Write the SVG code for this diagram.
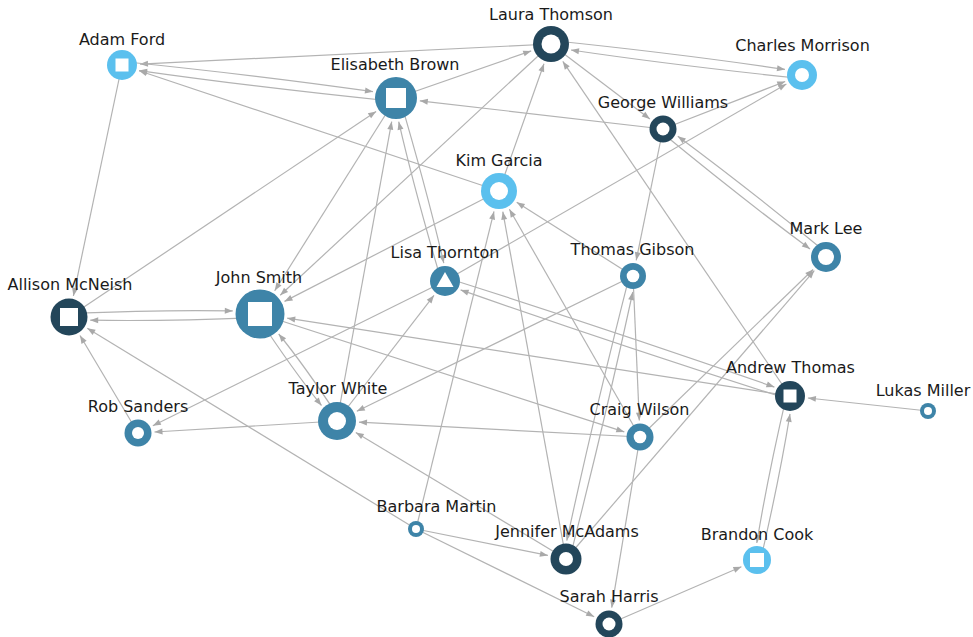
<svg xmlns="http://www.w3.org/2000/svg" width="973" height="637" viewBox="0 0 973 637">
<defs>
<style>
.e{fill:none;stroke:#b3b3b3;stroke-width:1.2;marker-end:url(#arr)}
.lbl{font-family:"DejaVu Sans","Liberation Sans",sans-serif;font-size:16px;fill:#1a1a1a;text-anchor:middle}
.cL{fill:#5bc0ee}.cM{fill:#3e84a8}.cD{fill:#23465a}.w{fill:#ffffff}
</style>
<marker id="arr" viewBox="0 0 8 6" refX="8" refY="3" markerWidth="8" markerHeight="6" markerUnits="userSpaceOnUse" orient="auto" overflow="visible"><path d="M0,0 L8,3 L0,6 Z" fill="#a9a9a9"/></marker>
</defs>
<rect width="973" height="637" fill="#ffffff"/>
<g id="edges">
<path class="e" d="M551,44 L140,64.1"/>
<path class="e" d="M499,191 L139.1,70.7"/>
<path class="e" d="M69,317 L376.1,111.4"/>
<path class="e" d="M122,65 L73.4,296"/>
<path class="e" d="M396,98 L531.2,50.9"/>
<path class="e" d="M663,129 L419.8,100.8"/>
<path class="e" d="M663,129 L785.2,81.5"/>
<path class="e" d="M445,281 L786.4,84"/>
<path class="e" d="M445,281 L152.8,425.7"/>
<path class="e" d="M551,44 L649.9,119"/>
<path class="e" d="M499,191 L544,63.8"/>
<path class="e" d="M790,396 L562.8,61.4"/>
<path class="e" d="M790,396 L287.2,318.2"/>
<path class="e" d="M260,314 L624.3,431.9"/>
<path class="e" d="M396,98 L274.7,290.7"/>
<path class="e" d="M337,421 L391.7,121.6"/>
<path class="e" d="M551,44 L280.2,295.3"/>
<path class="e" d="M499,191 L284.5,301.4"/>
<path class="e" d="M337,421 L434,295.3"/>
<path class="e" d="M633,276 L356.8,411.3"/>
<path class="e" d="M640,437 L359,422.2"/>
<path class="e" d="M566,559 L355.8,432.4"/>
<path class="e" d="M337,421 L154.5,432"/>
<path class="e" d="M416,529 L87.3,328.2"/>
<path class="e" d="M416,529 L494,211.4"/>
<path class="e" d="M566,559 L502.8,211.7"/>
<path class="e" d="M640,437 L509.4,209.2"/>
<path class="e" d="M633,276 L516.7,202.2"/>
<path class="e" d="M633,276 L639.3,420.5"/>
<path class="e" d="M640,437 L813.1,269.5"/>
<path class="e" d="M566,559 L814.3,270.6"/>
<path class="e" d="M663,129 L636.2,260.3"/>
<path class="e" d="M928,411 L807.9,398"/>
<path class="e" d="M416,529 L594.2,616.7"/>
<path class="e" d="M640,437 L611.7,607.7"/>
<path class="e" d="M609,624 L741.4,566.7"/>
<path class="e" d="M416,529 L547.9,555.4"/>
<path class="e" d="M138,433 L80,335.5"/>
<path class="e" d="M122.4,61.5 Q259.7,75.5 373,91.7"/>
<path class="e" d="M395.6,101.5 Q258.3,87.5 139.1,70.6"/>
<path class="e" d="M551.4,40.5 Q677.2,53.5 785,69.4"/>
<path class="e" d="M801.6,78.5 Q675.8,65.5 571,50"/>
<path class="e" d="M446.1,277.7 Q619.4,332.8 774.4,387.1"/>
<path class="e" d="M788.9,399.3 Q615.6,344.2 460.6,289.9"/>
<path class="e" d="M399.4,97.1 Q426.3,188 443.8,263.1"/>
<path class="e" d="M441.6,281.9 Q414.7,191.1 398.7,121.7"/>
<path class="e" d="M257.2,316 Q293.6,371 321.5,405.5"/>
<path class="e" d="M339.8,419 Q303.4,364 278.7,334"/>
<path class="e" d="M660.8,131.8 Q740.8,197.7 810,248.9"/>
<path class="e" d="M828.2,254.2 Q748.2,188.3 677.8,136.2"/>
<path class="e" d="M569.4,559.8 Q605.3,418.9 632.8,292"/>
<path class="e" d="M629.6,275.2 Q593.7,416.1 566.8,540.6"/>
<path class="e" d="M786.6,395.3 Q767.6,476.8 756.8,543"/>
<path class="e" d="M760.4,560.7 Q779.4,479.2 790,413.9"/>
<path class="e" d="M68.9,313.5 Q164.4,309.5 232.8,310.9"/>
<path class="e" d="M260.1,317.5 Q164.6,321.5 90.2,320.2"/>
</g>
<g id="n-adam-ford"><circle class="cL" cx="122" cy="65" r="15"/><rect class="w" x="115.5" y="58.5" width="13" height="13"/><text class="lbl" x="122" y="45">Adam Ford</text></g>
<g id="n-elisabeth-brown"><circle class="cM" cx="396" cy="98" r="21"/><rect class="w" x="386" y="88" width="20" height="20"/><text class="lbl" x="395" y="70">Elisabeth Brown</text></g>
<g id="n-laura-thomson"><circle class="cD" cx="551" cy="44" r="18"/><circle class="w" cx="551" cy="44" r="9.5"/><text class="lbl" x="551" y="19.5">Laura Thomson</text></g>
<g id="n-charles-morrison"><circle class="cL" cx="802" cy="75" r="15"/><circle class="w" cx="802" cy="75" r="7"/><text class="lbl" x="802.5" y="51">Charles Morrison</text></g>
<g id="n-george-williams"><circle class="cD" cx="663" cy="129" r="13.5"/><circle class="w" cx="663" cy="129" r="6.5"/><text class="lbl" x="663" y="108">George Williams</text></g>
<g id="n-kim-garcia"><circle class="cL" cx="499" cy="191" r="18"/><circle class="w" cx="499" cy="191" r="9"/><text class="lbl" x="499" y="166">Kim Garcia</text></g>
<g id="n-lisa-thornton"><circle class="cM" cx="445" cy="281" r="15"/><polygon class="w" points="445,272 436.5,287 453.5,287"/><text class="lbl" x="445" y="258">Lisa Thornton</text></g>
<g id="n-john-smith"><circle class="cM" cx="260" cy="314" r="24.5"/><rect class="w" x="248" y="302" width="24" height="24"/><text class="lbl" x="259" y="283">John Smith</text></g>
<g id="n-allison-mcneish"><circle class="cD" cx="69" cy="317" r="18.5"/><rect class="w" x="60" y="308" width="18" height="18"/><text class="lbl" x="70" y="290">Allison McNeish</text></g>
<g id="n-taylor-white"><circle class="cM" cx="337" cy="421" r="19"/><circle class="w" cx="337" cy="421" r="9"/><text class="lbl" x="338" y="394">Taylor White</text></g>
<g id="n-rob-sanders"><circle class="cM" cx="138" cy="433" r="13.5"/><circle class="w" cx="138" cy="433" r="6"/><text class="lbl" x="138" y="412">Rob Sanders</text></g>
<g id="n-thomas-gibson"><circle class="cM" cx="633" cy="276" r="13"/><circle class="w" cx="633" cy="276" r="6.3"/><text class="lbl" x="632.5" y="255">Thomas Gibson</text></g>
<g id="n-mark-lee"><circle class="cM" cx="826" cy="257" r="15"/><circle class="w" cx="826" cy="257" r="8"/><text class="lbl" x="826" y="234">Mark Lee</text></g>
<g id="n-andrew-thomas"><circle class="cD" cx="790" cy="396" r="15"/><rect class="w" x="783.5" y="389.5" width="13" height="13"/><text class="lbl" x="790.5" y="373">Andrew Thomas</text></g>
<g id="n-lukas-miller"><circle class="cM" cx="928" cy="411" r="8"/><circle class="w" cx="928" cy="411" r="4"/><text class="lbl" x="923" y="396">Lukas Miller</text></g>
<g id="n-craig-wilson"><circle class="cM" cx="640" cy="437" r="13.5"/><circle class="w" cx="640" cy="437" r="6.3"/><text class="lbl" x="639.5" y="415">Craig Wilson</text></g>
<g id="n-barbara-martin"><circle class="cM" cx="416" cy="529" r="8"/><circle class="w" cx="416" cy="529" r="4"/><text class="lbl" x="436.5" y="512">Barbara Martin</text></g>
<g id="n-jennifer-mcadams"><circle class="cD" cx="566" cy="559" r="15.5"/><circle class="w" cx="566" cy="559" r="7"/><text class="lbl" x="567" y="537">Jennifer McAdams</text></g>
<g id="n-brandon-cook"><circle class="cL" cx="757" cy="560" r="14"/><rect class="w" x="750" y="553" width="14" height="14"/><text class="lbl" x="757" y="540">Brandon Cook</text></g>
<g id="n-sarah-harris"><circle class="cD" cx="609" cy="624" r="13.5"/><circle class="w" cx="609" cy="624" r="6.5"/><text class="lbl" x="609" y="602">Sarah Harris</text></g>
</svg>
